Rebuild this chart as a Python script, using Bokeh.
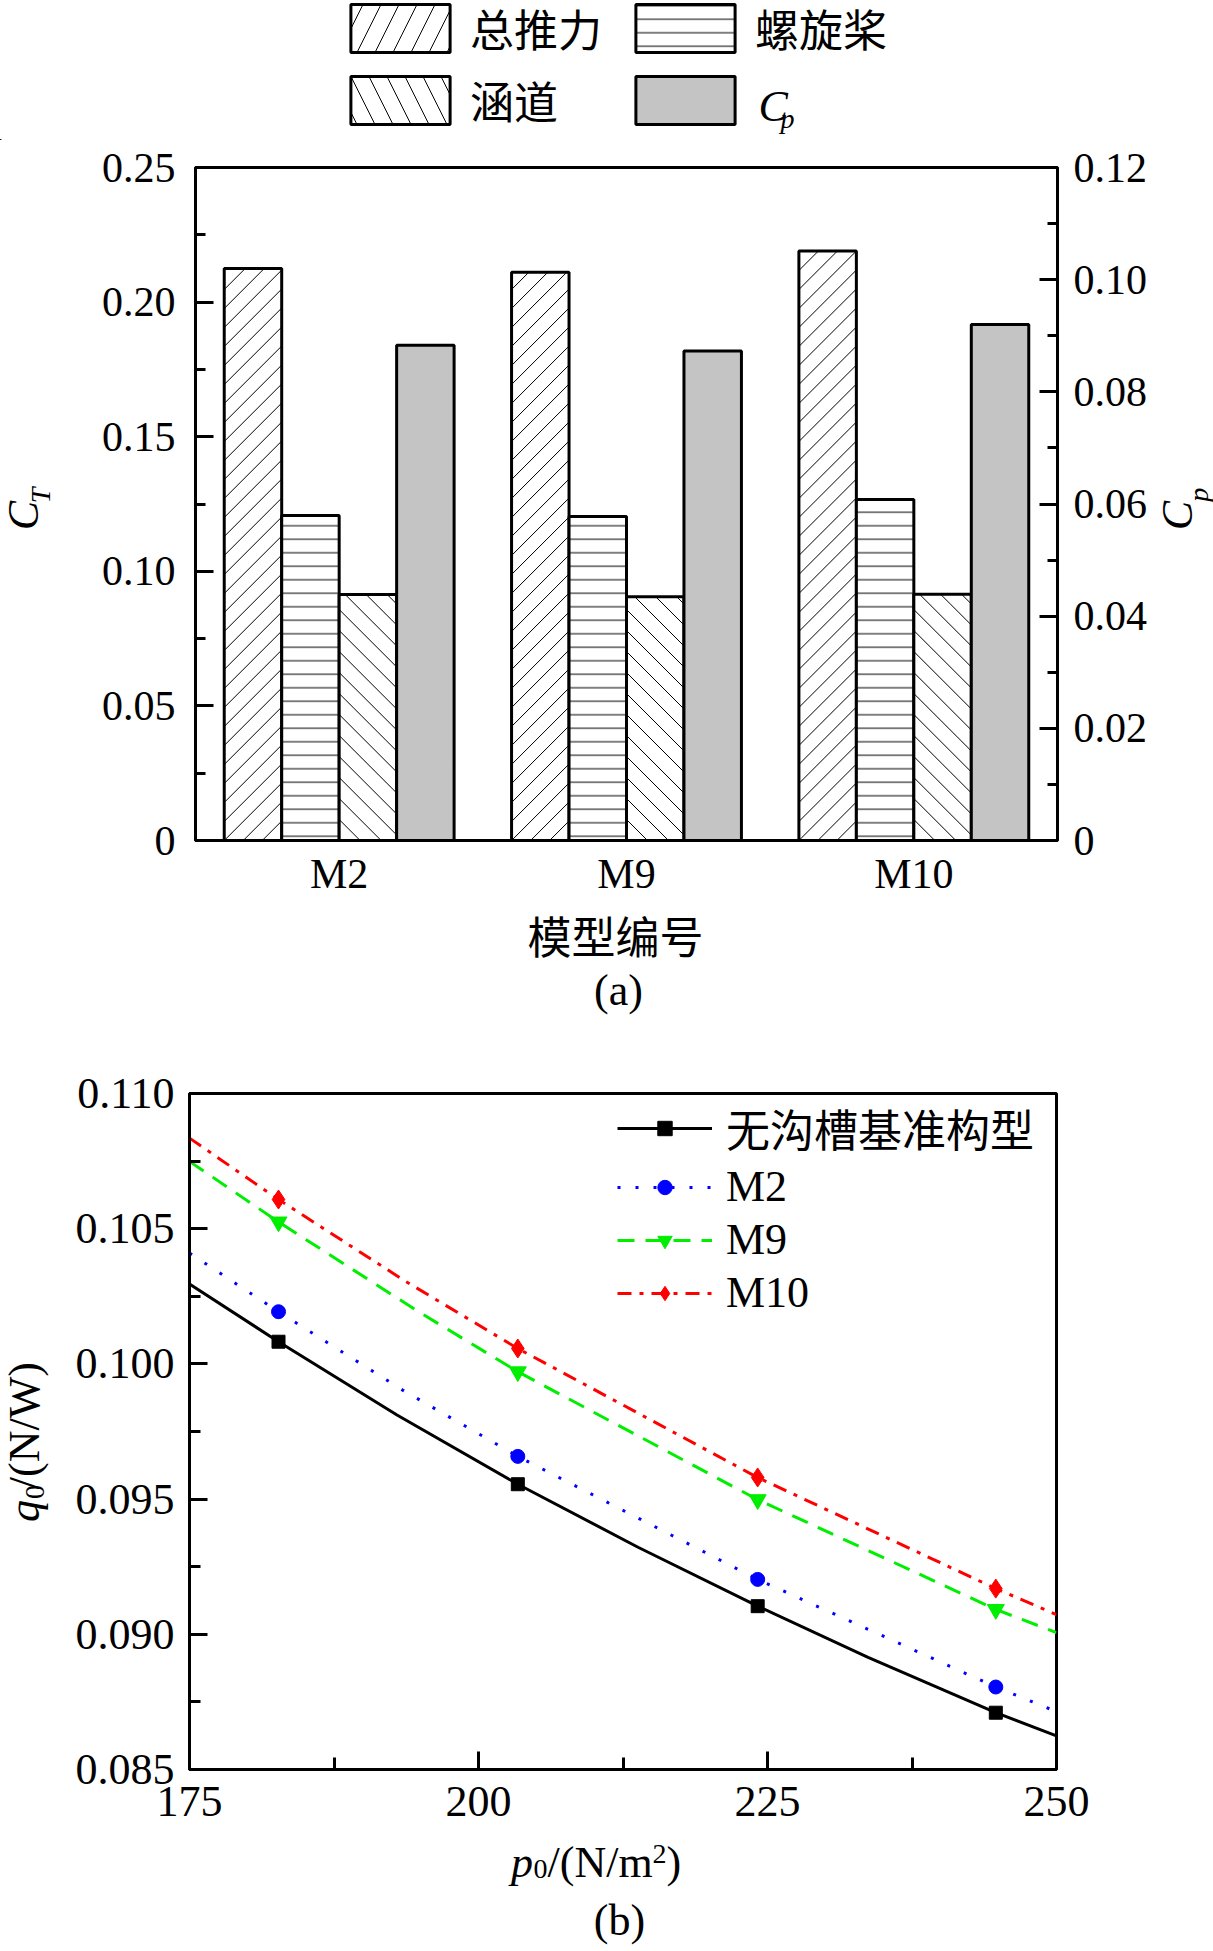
import math
from bokeh.plotting import figure
from bokeh.models import (Range1d, LinearAxis, FixedTicker,
                          PrintfTickFormatter, Legend, LegendItem)
from bokeh.layouts import column, row
from bokeh.embed import file_html
from bokeh.resources import INLINE
from bokeh.core.properties import value

SERIF = "Liberation Serif"
MIXED = "Liberation Serif, Noto Sans CJK SC"
CJK = "Noto Sans CJK SC"

# ---------------- data: chart (a) ----------------
models = ["M2", "M9", "M10"]
ct_total = [0.2125, 0.2111, 0.2190]
ct_propeller = [0.1207, 0.1204, 0.1267]
ct_duct = [0.0914, 0.0905, 0.0915]
cp_values = [0.0883, 0.0873, 0.0920]
series_a = ["总推力", "螺旋桨", "涵道", "Cp"]
ct_ticks = [0.0, 0.05, 0.10, 0.15, 0.20, 0.25]
ct_minor = [0.025, 0.075, 0.125, 0.175, 0.225]
cp_ticks = [0.0, 0.02, 0.04, 0.06, 0.08, 0.10, 0.12]
cp_minor = [0.01, 0.03, 0.05, 0.07, 0.09, 0.11]

# ---------------- data: chart (b) ----------------
series_b = ["无沟槽基准构型", "M2", "M9", "M10"]
p0_markers = [182.7, 203.4, 224.15, 244.75]
q_base = [0.10082, 0.09555, 0.09104, 0.08710]
q_m2 = [0.10193, 0.09658, 0.09203, 0.08805]
q_m9 = [0.10525, 0.09971, 0.09498, 0.09092]
q_m10 = [0.10608, 0.10057, 0.09580, 0.09169]
# fitted curves
base_curve_x = [175, 182.7, 192.95, 203.4, 213.8, 224.15, 233.7, 244.75, 250]
base_curve_y = [0.10295, 0.10082, 0.09811, 0.09555, 0.09322, 0.09104, 0.08915, 0.08710, 0.08624]
m2_curve_x = [175, 182.7, 193.4, 203.4, 224.15, 244.75, 250]
m2_curve_y = [0.10410, 0.10193, 0.09904, 0.09658, 0.09203, 0.08805, 0.08714]
m9_curve_x = [175, 182.7, 194.85, 203.4, 224.15, 244.75, 250]
m9_curve_y = [0.10749, 0.10525, 0.10192, 0.09971, 0.09498, 0.09092, 0.09006]
m10_curve_x = [175, 182.7, 193.7, 203.4, 224.15, 244.75, 250]
m10_curve_y = [0.10835, 0.10608, 0.10305, 0.10057, 0.09580, 0.09169, 0.09073]
p0_ticks = [175, 200, 225, 250]
p0_minor = [187.5, 212.5, 237.5]
q_ticks = [0.085, 0.090, 0.095, 0.100, 0.105, 0.110]
q_minor = [0.0875, 0.0925, 0.0975, 0.1025, 0.1075]

# ---------------- geometry (page pixels, origin top-left) ----------------
PAGE_W, PAGE_H = 1213, 1951
TA_H = 140                      # legend band of (a)
LA_W, RA_W = 98, 63             # side label strips of (a)
P1_BL, P1_BR, P1_BT, P1_BB = 97, 93, 27, 58
P1_FW, P1_FH = 862, 673
P1_H = P1_BT + P1_FH + P1_BB
LB_W = 70
P2_BL, P2_BT, P2_BB = 119, 62, 68
P2_FW, P2_FH = 867, 676
P2_BR = PAGE_W - LB_W - P2_BL - P2_FW
P2_H = P2_BT + P2_FH + P2_BB
BB_H = 115
BA_H = PAGE_H - TA_H - P1_H - P2_H - BB_H   # x title + (a)

ROW_A_BOT = TA_H + P1_H
BA_BOT = ROW_A_BOT + BA_H
ROW_B_BOT = BA_BOT + P2_H
BB_BOT = ROW_B_BOT + BB_H
ROT_SHIFT = 21.0                # rotated text sits this much high otherwise


def holder(w, h):
    f = figure(width=w, height=h, x_range=Range1d(0, w), y_range=Range1d(0, h),
               min_border=0, x_axis_type=None, y_axis_type=None,
               output_backend="svg", toolbar_location=None, title=None)
    f.outline_line_color = None
    f.background_fill_color = "white"
    f.border_fill_color = "white"
    return f


def txt(f, x, y, s, size, font=SERIF, style="normal", align="left", angle=0.0):
    f.text(x=[x], y=[y], text=[s], text_font=value(font),
           text_font_size=value(f"{size}px"), text_font_style=style,
           text_align=align, text_baseline="middle", angle=angle,
           text_color="black")


def vtxt(f, x, page_y, bottom, s, size, style="normal"):
    """vertical (bottom-to-top) text centred on page_y"""
    y = bottom - (page_y + ROT_SHIFT)
    txt(f, x, y, s, size, style=style, align="center", angle=math.pi / 2)


def style_axis(ax, size, standoff, tick_in=18, minor_in=10, show_ticks=True):
    ax.axis_line_width = 3
    ax.axis_line_color = "black"
    ax.major_label_text_font = SERIF
    ax.major_label_text_font_size = f"{size}px"
    ax.major_label_text_color = "black"
    ax.major_label_standoff = standoff
    ax.major_tick_out = 0
    ax.minor_tick_out = 0
    if show_ticks:
        ax.major_tick_in = tick_in
        ax.minor_tick_in = minor_in
        ax.major_tick_line_width = 3
        ax.minor_tick_line_width = 3
        ax.major_tick_line_color = "black"
        ax.minor_tick_line_color = "black"
    else:
        ax.major_tick_line_color = None
        ax.minor_tick_line_color = None


bar_line = dict(line_color="black", line_width=3)
BAR_W = 0.2
offsets = [-0.3, -0.1, 0.1, 0.3]
centers = [i + 0.5 for i in range(len(models))]

# ---------------- chart (a) ----------------
p1 = figure(x_range=Range1d(0, len(models)), y_range=Range1d(0, 0.25),
            frame_width=P1_FW, frame_height=P1_FH,
            min_border_left=P1_BL, min_border_right=P1_BR,
            min_border_top=P1_BT, min_border_bottom=P1_BB,
            output_backend="svg", toolbar_location=None, title=None)
p1.extra_y_ranges = {"cp": Range1d(0, 0.12)}
p1.grid.visible = False
p1.outline_line_color = "black"
p1.outline_line_width = 3
p1.background_fill_color = "white"
p1.border_fill_color = "white"

x_total = [c + offsets[0] for c in centers]
x_prop = [c + offsets[1] for c in centers]
x_duct = [c + offsets[2] for c in centers]
x_cp = [c + offsets[3] for c in centers]

p1.vbar(x=x_total, top=ct_total, width=BAR_W, fill_color="white", **bar_line)
p1.vbar(x=x_prop, top=ct_propeller, width=BAR_W, fill_color="white",
        hatch_pattern="-", hatch_scale=13.5, hatch_weight=1,
        hatch_color="black", **bar_line)
p1.vbar(x=x_duct, top=ct_duct, width=BAR_W, fill_color="white", **bar_line)
p1.vbar(x=x_cp, top=cp_values, width=BAR_W, y_range_name="cp",
        fill_color="#c4c4c4", **bar_line)

# 45-degree hatching of the 总推力 / 涵道 bars, derived from the bar data
SX = P1_FW / (p1.x_range.end - p1.x_range.start)   # px per x unit
SY = P1_FH / (p1.y_range.end - p1.y_range.start)   # px per C_T unit


def hatch(xc_list, tops, step, rising):
    x0s, y0s, x1s, y1s = [], [], [], []
    for xc, top in zip(xc_list, tops):
        xl = xc - BAR_W / 2
        W = BAR_W * SX
        H = top * SY
        if rising:      # Y = X + c
            c = -math.floor(W / step) * step
            while c < H:
                a = max(0.0, -c)
                b = min(W, H - c)
                if b > a:
                    x0s.append(xl + a / SX); y0s.append((a + c) / SY)
                    x1s.append(xl + b / SX); y1s.append((b + c) / SY)
                c += step
        else:           # Y = c - X
            c = step
            while c < W + H:
                a = max(0.0, c - H)
                b = min(W, c)
                if b > a:
                    x0s.append(xl + a / SX); y0s.append((c - a) / SY)
                    x1s.append(xl + b / SX); y1s.append((c - b) / SY)
                c += step
    return x0s, y0s, x1s, y1s


for xs, tops, step, rising in ((x_total, ct_total, 19, True),
                               (x_duct, ct_duct, 21, False)):
    a0, b0, a1, b1 = hatch(xs, tops, step, rising)
    p1.segment(x0=a0, y0=b0, x1=a1, y1=b1, line_color="black", line_width=1)

ax_left = p1.yaxis[0]
ax_left.ticker = FixedTicker(ticks=ct_ticks, minor_ticks=ct_minor)
ax_left.formatter = PrintfTickFormatter(format="%.2f")
ax_left.major_label_overrides = {0: "0"}
style_axis(ax_left, 42, 20)

ax_bot = p1.xaxis[0]
ax_bot.ticker = FixedTicker(ticks=centers)
ax_bot.major_label_overrides = {c: m for c, m in zip(centers, models)}
style_axis(ax_bot, 42, 10, show_ticks=False)

ax_right = LinearAxis(y_range_name="cp",
                      ticker=FixedTicker(ticks=cp_ticks, minor_ticks=cp_minor),
                      formatter=PrintfTickFormatter(format="%.2f"))
ax_right.major_label_overrides = {0: "0"}
style_axis(ax_right, 42, 16)
p1.add_layout(ax_right, "right")

# legend band of (a): swatches share the bar styles (proxies lie off-canvas)
ta = holder(PAGE_W, TA_H)
off = dict(x=[-5000], top=[-5000], bottom=[-5001], width=10)
g_total = ta.vbar(**off, fill_color="white", hatch_pattern="/", hatch_scale=36,
                  hatch_weight=1, hatch_color="black", **bar_line)
g_prop = ta.vbar(**off, fill_color="white", hatch_pattern="-", hatch_scale=13.5,
                 hatch_weight=1, hatch_color="black", **bar_line)
g_duct = ta.vbar(**off, fill_color="white", hatch_pattern="\\", hatch_scale=36,
                 hatch_weight=1, hatch_color="black", **bar_line)
g_cp = ta.vbar(**off, fill_color="#c4c4c4", **bar_line)
leg1 = Legend(items=[LegendItem(label=series_a[0], renderers=[g_total]),
                     LegendItem(label=series_a[1], renderers=[g_prop]),
                     LegendItem(label=series_a[2], renderers=[g_duct]),
                     LegendItem(label=" ", renderers=[g_cp])],
              location=(338, 8), orientation="horizontal", ncols=2,
              glyph_width=124, glyph_height=60, label_height=48,
              label_width=145, label_standoff=8, spacing=8, padding=0,
              margin=0, border_line_color=None, background_fill_alpha=0,
              label_text_font=MIXED, label_text_font_size="44px",
              label_text_color="black")
ta.add_layout(leg1)
txt(ta, 758, TA_H - 106, "C", 44, style="italic")
txt(ta, 780, TA_H - 118, "p", 28, style="italic")

# side strips with the axis titles C_T and C_p
la = holder(LA_W, P1_H)
vtxt(la, 22.5, 511.5, ROW_A_BOT, "C", 44, style="italic")
vtxt(la, 40, 489, ROW_A_BOT, "T", 28, style="italic")
ra = holder(RA_W, P1_H)
RA_X0 = PAGE_W - RA_W
vtxt(ra, 1177 - RA_X0, 511.5, ROW_A_BOT, "C", 44, style="italic")
vtxt(ra, 1198 - RA_X0, 488, ROW_A_BOT, "p", 28, style="italic")

ba = holder(PAGE_W, BA_H)
txt(ba, 615, BA_BOT - 933, "模型编号", 44, font=CJK, align="center")
txt(ba, 618, BA_BOT - 988.5, "(a)", 44, align="center")

# ---------------- chart (b) ----------------
p2 = figure(x_range=Range1d(175, 250), y_range=Range1d(0.085, 0.110),
            frame_width=P2_FW, frame_height=P2_FH,
            min_border_left=P2_BL, min_border_right=P2_BR,
            min_border_top=P2_BT, min_border_bottom=P2_BB,
            output_backend="svg", toolbar_location=None, title=None)
p2.grid.visible = False
p2.outline_line_color = "black"
p2.outline_line_width = 3
p2.background_fill_color = "white"
p2.border_fill_color = "white"

lb = p2.line(base_curve_x, base_curve_y, line_color="black", line_width=3)
sb = p2.scatter(p0_markers, q_base, marker="square", size=13,
                fill_color="black", line_color="black")
l2 = p2.line(m2_curve_x, m2_curve_y, line_color="#0000ff", line_width=3,
             line_dash="3 15")
s2 = p2.scatter(p0_markers, q_m2, marker="circle", size=14,
                fill_color="#0000ff", line_color="#0000ff")
l9 = p2.line(m9_curve_x, m9_curve_y, line_color="#00ee00", line_width=3,
             line_dash="17 11")
s9 = p2.scatter(p0_markers, q_m9, marker="inverted_triangle", size=17,
                fill_color="#00ee00", line_color="#00ee00")
l10 = p2.line(m10_curve_x, m10_curve_y, line_color="#ff0000", line_width=3,
              line_dash="14 8 4 8")
s10 = p2.scatter(p0_markers, q_m10, marker="diamond", size=19,
                 fill_color="#ff0000", line_color="#ff0000")

bx = p2.xaxis[0]
bx.ticker = FixedTicker(ticks=p0_ticks, minor_ticks=p0_minor)
bx.formatter = PrintfTickFormatter(format="%d")
style_axis(bx, 44, 17, tick_in=18, minor_in=12)

by = p2.yaxis[0]
by.ticker = FixedTicker(ticks=q_ticks, minor_ticks=q_minor)
by.formatter = PrintfTickFormatter(format="%.3f")
style_axis(by, 44, 15, tick_in=18, minor_in=11)

leg2 = Legend(items=[LegendItem(label=series_b[0], renderers=[lb, sb]),
                     LegendItem(label=series_b[1], renderers=[l2, s2]),
                     LegendItem(label=series_b[2], renderers=[l9, s9]),
                     LegendItem(label=series_b[3], renderers=[l10, s10])],
              location=(428, 450), orientation="vertical",
              glyph_width=95, glyph_height=36, label_height=53,
              label_standoff=14, spacing=0, padding=0, margin=0,
              border_line_color=None, background_fill_alpha=0,
              label_text_font=MIXED, label_text_font_size="44px",
              label_text_color="black")
p2.add_layout(leg2)

lbf = holder(LB_W, P2_H)
vtxt(lbf, 24, 1506.7, ROW_B_BOT, "q", 44, style="italic")
vtxt(lbf, 34, 1484, ROW_B_BOT, "0", 28)
vtxt(lbf, 24, 1405, ROW_B_BOT, "/(N/W)", 44)

bb = holder(PAGE_W, BB_H)
txt(bb, 510.6, BB_BOT - 1860.5, "p", 44, style="italic")
txt(bb, 533, BB_BOT - 1867, "0", 28)
txt(bb, 547, BB_BOT - 1860.5, "/(N/m", 44)
txt(bb, 652, BB_BOT - 1852, "2", 28)
txt(bb, 666, BB_BOT - 1860.5, ")", 44)
txt(bb, 619, BB_BOT - 1919, "(b)", 44, align="center")

layout = column(ta, row(la, p1, ra, spacing=0), ba,
                row(lbf, p2, spacing=0), bb, spacing=0)
open("out.html", "w").write(file_html(layout, INLINE))
